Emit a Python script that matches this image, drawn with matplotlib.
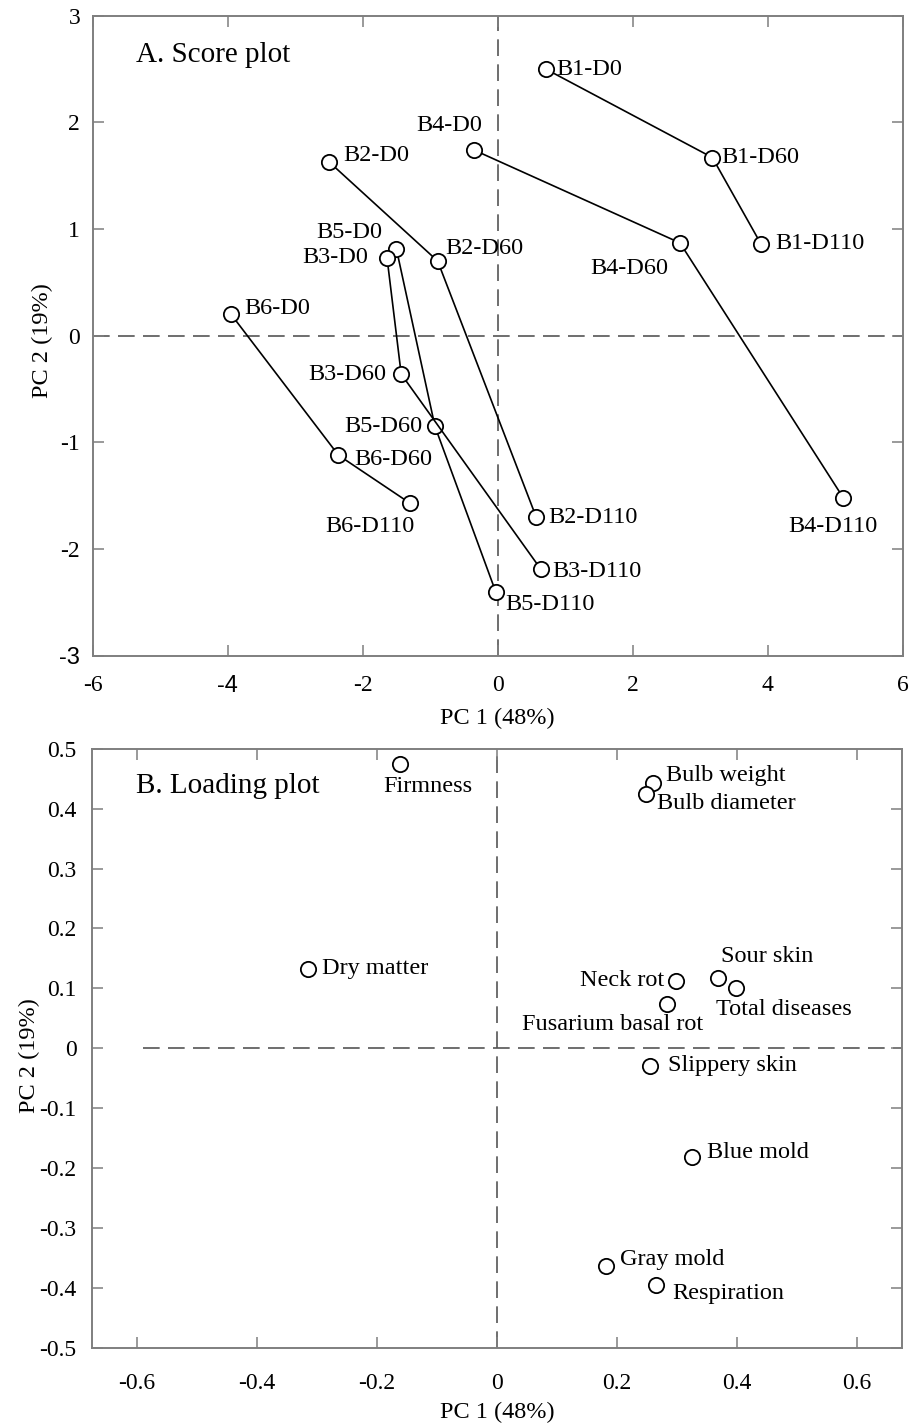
import numpy as np
import matplotlib
matplotlib.use("Agg")
import matplotlib.pyplot as plt

plt.rcParams['font.family'] = ['Liberation Serif', 'DejaVu Serif']
plt.rcParams['axes.unicode_minus'] = False

# ---- score plot data (PC1, PC2) per batch, days 0/60/110
batches = ['B1', 'B2', 'B3', 'B4', 'B5', 'B6']
days = ['D0', 'D60', 'D110']
score_pc1 = {
    'B1': [0.71, 3.18, 3.90],
    'B2': [-2.50, -0.89, 0.57],
    'B3': [-1.64, -1.43, 0.64],
    'B4': [-0.35, 2.70, 5.12],
    'B5': [-1.50, -0.93, -0.03],
    'B6': [-3.95, -2.36, -1.30],
}
score_pc2 = {
    'B1': [2.50, 1.67, 0.86],
    'B2': [1.63, 0.70, -1.70],
    'B3': [0.73, -0.36, -2.19],
    'B4': [1.74, 0.87, -1.52],
    'B5': [0.81, -0.85, -2.40],
    'B6': [0.20, -1.12, -1.57],
}

# ---- loading plot data
variables = ['Firmness', 'Bulb weight', 'Bulb diameter', 'Dry matter', 'Neck rot',
             'Sour skin', 'Total diseases', 'Fusarium basal rot', 'Slippery skin',
             'Blue mold', 'Gray mold', 'Respiration']
load_pc1 = [-0.161, 0.260, 0.249, -0.315, 0.299, 0.369, 0.399, 0.284, 0.256,
            0.325, 0.182, 0.266]
load_pc2 = [0.474, 0.443, 0.425, 0.133, 0.113, 0.118, 0.101, 0.073, -0.029,
            -0.182, -0.363, -0.395]

# label offsets in pixels (dx, dy, ha)
score_off = {
    'B1-D0': (11, 0, 'left'), 'B1-D60': (9, 0, 'left'), 'B1-D110': (14, 0, 'left'),
    'B2-D0': (14, 6, 'left'), 'B2-D60': (8, 13, 'left'), 'B2-D110': (12, 0, 'left'),
    'B3-D0': (-19, 0, 'right'), 'B3-D60': (-15, 0, 'right'), 'B3-D110': (11, -2, 'left'),
    'B4-D0': (8, 25, 'right'), 'B4-D60': (-12, -26, 'right'), 'B4-D110': (-10, -29, 'center'),
    'B5-D0': (-14, 17, 'right'), 'B5-D60': (-13, 0, 'right'), 'B5-D110': (10, -13, 'left'),
    'B6-D0': (13, 6, 'left'), 'B6-D60': (16, -4, 'left'), 'B6-D110': (-40, -23, 'center'),
}
load_off = [(28, -22, 'center'), (13, 7, 'left'), (11, -10, 'left'), (14, 0, 'left'),
            (-12, 0, 'right'), (3, 21, 'left'), (-20, -22, 'left'), (-55, -20, 'center'),
            (18, 0, 'left'), (15, 5, 'left'), (14, 6, 'left'), (16, -9, 'left')]

fig = plt.figure(figsize=(9.11, 14.24), dpi=100)
ax1 = fig.add_axes([0.1018, 0.5395, 0.8891, 0.4495])
ax2 = fig.add_axes([0.1010, 0.0536, 0.8888, 0.4206])

spine_col = '#7f7f7f'
dash_kw = dict(color='#555555', lw=1.2, dashes=(10, 5), zorder=1)


def style_axes(ax):
    for s in ax.spines.values():
        s.set_color(spine_col)
        s.set_linewidth(1.4)
    ax.tick_params(direction='in', length=8, width=1.1, color=spine_col,
                   top=True, right=True, labelsize=17)


# ---- A. score plot
for b in ['B1', 'B2', 'B4', 'B5', 'B6', 'B3']:
    ax1.plot(score_pc1[b], score_pc2[b], '-o', color='black', lw=1.2, ms=11,
             mfc='white', mec='black', mew=1.3, zorder=3)
    for i, d in enumerate(days):
        lab = b + '-' + d
        dx, dy, ha = score_off[lab]
        ax1.annotate(lab, (score_pc1[b][i], score_pc2[b][i]), xytext=(dx, dy),
                     textcoords='offset pixels', ha=ha, va='center', fontsize=17.5)

ax1.axvline(0, **dash_kw)
ax1.axhline(0, **dash_kw)
ax1.set_xlim(-6, 6)
ax1.set_ylim(-3, 3)
ax1.set_xticks(np.arange(-6, 7, 2))
ax1.set_yticks(np.arange(-3, 4, 1))
style_axes(ax1)
ax1.tick_params(axis='x', pad=14)
ax1.tick_params(axis='y', pad=9)
ax1.set_xlabel('PC 1 (48%)', fontsize=17.5, labelpad=8)
ax1.set_ylabel('PC 2 (19%)', fontsize=17.5)
ax1.yaxis.set_label_coords(-0.049, 0.493)
ax1.text(0.054, 0.939, 'A. Score plot', transform=ax1.transAxes, fontsize=21,
         ha='left', va='center')

# ---- B. loading plot
ax2.plot(load_pc1, load_pc2, 'o', color='black', ms=11, mfc='white', mec='black',
         mew=1.3, zorder=3)
for name, x, y, (dx, dy, ha) in zip(variables, load_pc1, load_pc2, load_off):
    ax2.annotate(name, (x, y), xytext=(dx, dy), textcoords='offset pixels',
                 ha=ha, va='center', fontsize=17.5)

ax2.axvline(0, **dash_kw)
ax2.plot([-0.59, 0.675], [0, 0], **dash_kw)
ax2.set_xlim(-0.675, 0.675)
ax2.set_ylim(-0.5, 0.5)
ax2.set_xticks([-0.6, -0.4, -0.2, 0, 0.2, 0.4, 0.6])
ax2.set_xticklabels(['-0.6', '-0.4', '-0.2', '0', '0.2', '0.4', '0.6'])
yt = np.round(np.arange(-0.5, 0.51, 0.1), 1)
ax2.set_yticks(yt)
ax2.set_yticklabels(['0' if v == 0 else f'{v:.1f}' for v in yt])
style_axes(ax2)
ax2.tick_params(axis='x', pad=18)
ax2.tick_params(axis='y', pad=11)
ax2.set_xlabel('PC 1 (48%)', fontsize=17.5, labelpad=6)
ax2.set_ylabel('PC 2 (19%)', fontsize=17.5)
ax2.yaxis.set_label_coords(-0.064, 0.487)
ax2.text(0.054, 0.937, 'B. Loading plot', transform=ax2.transAxes, fontsize=21,
         ha='left', va='center')

# a couple of tick labels in the original are set in a sans face
fig.canvas.draw()
for t in ax1.get_xticklabels():
    if t.get_text() == '-4':
        t.set_fontfamily('Liberation Sans')
for t in ax1.get_yticklabels():
    if t.get_text() == '-3':
        t.set_fontfamily('Liberation Sans')

fig.savefig('out.png', dpi=100)
